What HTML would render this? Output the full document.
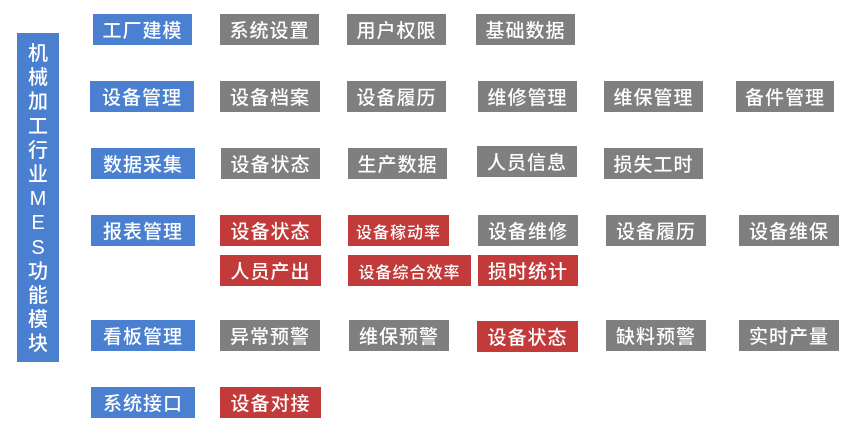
<!DOCTYPE html>
<html><head><meta charset="utf-8"><style>
body{margin:0;width:860px;height:448px;background:#fff;position:relative;overflow:hidden;font-family:"Liberation Sans","Noto Sans CJK SC",sans-serif}
.b{position:absolute;color:#fff;font-size:19px;display:flex;align-items:center;justify-content:center;height:31px;letter-spacing:1px;font-weight:500}
.u{background:#4a80cf}.g{background:#7f7f7f}.r{background:#c23a3a}
.s{font-size:16px}
#bar{position:absolute;left:17px;top:33px;width:42px;height:329px;background:#4a80cf;color:#fff;font-size:20px;line-height:24.2px;text-align:center;padding-top:9px;box-sizing:border-box;font-weight:500}
</style></head><body>
<div id="bar">机<br>械<br>加<br>工<br>行<br>业<br>M<br>E<br>S<br>功<br>能<br>模<br>块</div>

<div class="b u" style="left:93px;top:14px;width:99px">工厂建模</div>
<div class="b g" style="left:220px;top:14px;width:99px">系统设置</div>
<div class="b g" style="left:347px;top:14px;width:99px">用户权限</div>
<div class="b g" style="left:476px;top:14px;width:99px">基础数据</div>

<div class="b u" style="left:90px;top:81px;width:104px">设备管理</div>
<div class="b g" style="left:220px;top:81px;width:100px">设备档案</div>
<div class="b g" style="left:347px;top:81px;width:99px">设备履历</div>
<div class="b g" style="left:478px;top:81px;width:99px">维修管理</div>
<div class="b g" style="left:604px;top:81px;width:99px">维保管理</div>
<div class="b g" style="left:736px;top:81px;width:98px">备件管理</div>

<div class="b u" style="left:91px;top:148px;width:104px">数据采集</div>
<div class="b g" style="left:221px;top:148px;width:99px">设备状态</div>
<div class="b g" style="left:348px;top:148px;width:99px">生产数据</div>
<div class="b g" style="left:477px;top:146px;width:100px">人员信息</div>
<div class="b g" style="left:604px;top:148px;width:99px">损失工时</div>

<div class="b u" style="left:91px;top:215px;width:104px">报表管理</div>
<div class="b r" style="left:220px;top:215px;width:101px">设备状态</div>
<div class="b r s" style="left:348px;top:215px;width:101px">设备稼动率</div>
<div class="b g" style="left:478px;top:215px;width:100px">设备维修</div>
<div class="b g" style="left:606px;top:215px;width:100px">设备履历</div>
<div class="b g" style="left:739px;top:215px;width:100px">设备维保</div>
<div class="b r" style="left:220px;top:255px;width:101px">人员产出</div>
<div class="b r s" style="left:348px;top:255px;width:123px">设备综合效率</div>
<div class="b r" style="left:478px;top:255px;width:100px">损时统计</div>

<div class="b u" style="left:91px;top:320px;width:104px">看板管理</div>
<div class="b g" style="left:220px;top:320px;width:100px">异常预警</div>
<div class="b g" style="left:349px;top:320px;width:100px">维保预警</div>
<div class="b r" style="left:477px;top:321px;width:101px">设备状态</div>
<div class="b g" style="left:606px;top:320px;width:100px">缺料预警</div>
<div class="b g" style="left:739px;top:320px;width:100px">实时产量</div>

<div class="b u" style="left:91px;top:387px;width:104px">系统接口</div>
<div class="b r" style="left:220px;top:387px;width:101px">设备对接</div>
</body></html>
